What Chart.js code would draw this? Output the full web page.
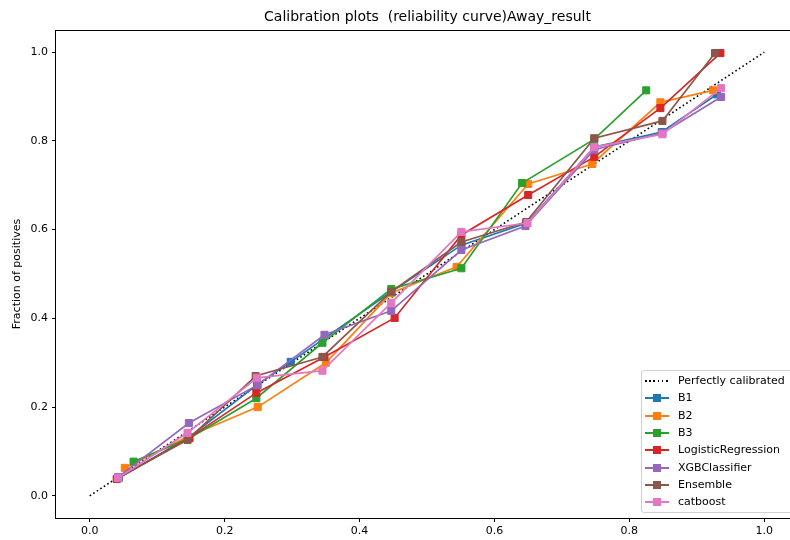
<!DOCTYPE html>
<html>
<head>
<meta charset="utf-8">
<script src="https://cdn.jsdelivr.net/npm/chart.js@4.4.1/dist/chart.umd.min.js"></script>
<style>
  html, body { margin: 0; padding: 0; background: #fff; overflow: hidden; }
  #wrap { position: relative; width: 804px; height: 540px; }
  #title { position: absolute; left: 56px; width: 743px; top: 8px; text-align: center;
           font: 14px 'DejaVu Sans'; color: #000; white-space: pre; }
  #legend { position: absolute; left: 641px; top: 370px; width: 160px; height: 141px;
            border: 1px solid #d0d0d0; border-radius: 3px; background: rgba(255,255,255,0.8);
            font: 11px 'DejaVu Sans'; color: #000; }
  .row { position: absolute; left: 0; width: 160px; height: 14px; }
  .line { position: absolute; left: 3px; width: 24px; top: 6px; height: 2px; }
  .mark { position: absolute; left: 11px; top: 3px; width: 8px; height: 8px; }
  .txt { position: absolute; left: 36px; top: 0; line-height: 14px; white-space: nowrap; }
</style>
</head>
<body>
<div id="wrap">
  <canvas id="calib" width="804" height="540"></canvas>
  <div id="title">Calibration plots  (reliability curve)Away_result</div>
  <div id="legend"></div>
</div>
<script>
// tick labels
const xTicks = [0.0, 0.2, 0.4, 0.6, 0.8, 1.0];
const yTicks = [0.0, 0.2, 0.4, 0.6, 0.8, 1.0];

// reference diagonal
const diagLabel = 'Perfectly calibrated';
const diagX = [0, 1];
const diagY = [0, 1];

// mean predicted value (x) / fraction of positives (y) per model
const b1X = [0.043, 0.147, 0.248, 0.298, 0.447, 0.551, 0.648, 0.748, 0.848, 0.930];
const b1Y = [0.040, 0.132, 0.250, 0.302, 0.460, 0.565, 0.615, 0.786, 0.820, 0.905];

const b2X = [0.052, 0.145, 0.249, 0.350, 0.447, 0.544, 0.650, 0.745, 0.846, 0.924];
const b2Y = [0.063, 0.133, 0.200, 0.300, 0.457, 0.516, 0.703, 0.748, 0.887, 0.914];

const b3X = [0.065, 0.148, 0.247, 0.345, 0.447, 0.551, 0.641, 0.748, 0.825];
const b3Y = [0.077, 0.130, 0.220, 0.345, 0.466, 0.513, 0.705, 0.804, 0.914];

const lrX = [0.040, 0.147, 0.247, 0.348, 0.452, 0.551, 0.650, 0.748, 0.846, 0.935];
const lrY = [0.038, 0.130, 0.232, 0.313, 0.401, 0.588, 0.678, 0.764, 0.874, 0.998];

const xgbX = [0.042, 0.147, 0.249, 0.348, 0.447, 0.551, 0.646, 0.748, 0.849, 0.936];
const xgbY = [0.042, 0.164, 0.250, 0.363, 0.417, 0.554, 0.608, 0.780, 0.818, 0.899];

const ensX = [0.042, 0.145, 0.246, 0.345, 0.447, 0.551, 0.647, 0.748, 0.849, 0.927];
const ensY = [0.040, 0.126, 0.270, 0.313, 0.460, 0.572, 0.617, 0.806, 0.845, 0.998];

const cbX = [0.042, 0.145, 0.248, 0.345, 0.447, 0.551, 0.649, 0.748, 0.849, 0.936];
const cbY = [0.040, 0.142, 0.266, 0.282, 0.435, 0.595, 0.615, 0.786, 0.815, 0.919];

const seriesNames = ['B1', 'B2', 'B3', 'LogisticRegression', 'XGBClassifier', 'Ensemble', 'catboost'];
const seriesX = [b1X, b2X, b3X, lrX, xgbX, ensX, cbX];
const seriesY = [b1Y, b2Y, b3Y, lrY, xgbY, ensY, cbY];
const colors = ['#1f77b4', '#ff7f0e', '#2ca02c', '#d62728', '#9467bd', '#8c564b', '#e377c2'];

const pts = (xs, ys) => xs.map((x, i) => ({ x: x, y: ys[i] }));

Chart.defaults.font.family = 'DejaVu Sans';
Chart.defaults.color = '#000';

const datasets = [{
  label: diagLabel,
  data: pts(diagX, diagY),
  showLine: true,
  borderColor: '#000',
  borderWidth: 1.6,
  borderDash: [1.6, 2.6],
  pointRadius: 0,
  order: 20
}];
seriesNames.forEach((name, i) => {
  datasets.push({
    label: name,
    data: pts(seriesX[i], seriesY[i]),
    showLine: true,
    borderColor: colors[i],
    backgroundColor: colors[i],
    borderWidth: 1.7,
    pointStyle: 'rect',
    pointRadius: 5,
    pointBorderWidth: 1,
    pointBackgroundColor: colors[i],
    pointBorderColor: colors[i],
    order: seriesNames.length - i
  });
});

// axes frame (matplotlib style box)
const frame = {
  id: 'frame',
  afterDraw(chart) {
    const { ctx, chartArea: a } = chart;
    ctx.save();
    ctx.strokeStyle = '#000';
    ctx.lineWidth = 1;
    ctx.strokeRect(Math.round(a.left) - 0.5, Math.round(a.top) + 0.5,
      Math.round(a.right - a.left), Math.round(a.bottom - a.top));
    ctx.restore();
  }
};

new Chart(document.getElementById('calib'), {
  type: 'scatter',
  data: { datasets: datasets },
  plugins: [frame],
  options: {
    responsive: false,
    animation: false,
    events: [],
    layout: { padding: { top: 30, right: 1, left: 0, bottom: 0 } },
    plugins: {
      legend: { display: false },
      tooltip: { enabled: false },
      title: { display: false }
    },
    scales: {
      x: {
        type: 'linear',
        min: -0.05,
        max: 1.05,
        afterBuildTicks: s => { s.ticks = xTicks.map(v => ({ value: v })); },
        afterFit: s => { s.height = 22; s.paddingLeft = 0; s.paddingRight = 0; },
        grid: { drawOnChartArea: false, drawTicks: true, tickLength: 4, color: '#000' },
        border: { display: false },
        ticks: { font: { size: 11 }, padding: 3, maxRotation: 0, callback: v => v.toFixed(1) }
      },
      y: {
        type: 'linear',
        min: -0.05,
        max: 1.05,
        afterBuildTicks: s => { s.ticks = yTicks.map(v => ({ value: v })); },
        afterFit: s => { s.width = 56; s.paddingTop = 0; s.paddingBottom = 0; },
        grid: { drawOnChartArea: false, drawTicks: true, tickLength: 4, color: '#000' },
        border: { display: false },
        ticks: { font: { size: 11 }, padding: 4, callback: v => v.toFixed(1) },
        title: { display: true, text: 'Fraction of positives', font: { size: 11 }, padding: { top: 11, bottom: 0 } }
      }
    }
  }
});

// legend inside the axes, lower right
const legendBox = document.getElementById('legend');
const legendItems = [{ label: diagLabel, color: '#000', dotted: true }]
  .concat(seriesNames.map((n, i) => ({ label: n, color: colors[i], dotted: false })));
legendItems.forEach((it, i) => {
  const row = document.createElement('div');
  row.className = 'row';
  row.style.top = (10 + i * 17.3 - 7) + 'px';
  const line = document.createElement('div');
  line.className = 'line';
  if (it.dotted) {
    line.style.background = 'repeating-linear-gradient(90deg, #000 0 1.6px, transparent 1.6px 4.2px)';
  } else {
    line.style.background = it.color;
    const mark = document.createElement('div');
    mark.className = 'mark';
    mark.style.background = it.color;
    row.appendChild(mark);
  }
  row.insertBefore(line, row.firstChild);
  const txt = document.createElement('div');
  txt.className = 'txt';
  txt.textContent = it.label;
  row.appendChild(txt);
  legendBox.appendChild(row);
});
</script>
</body>
</html>
